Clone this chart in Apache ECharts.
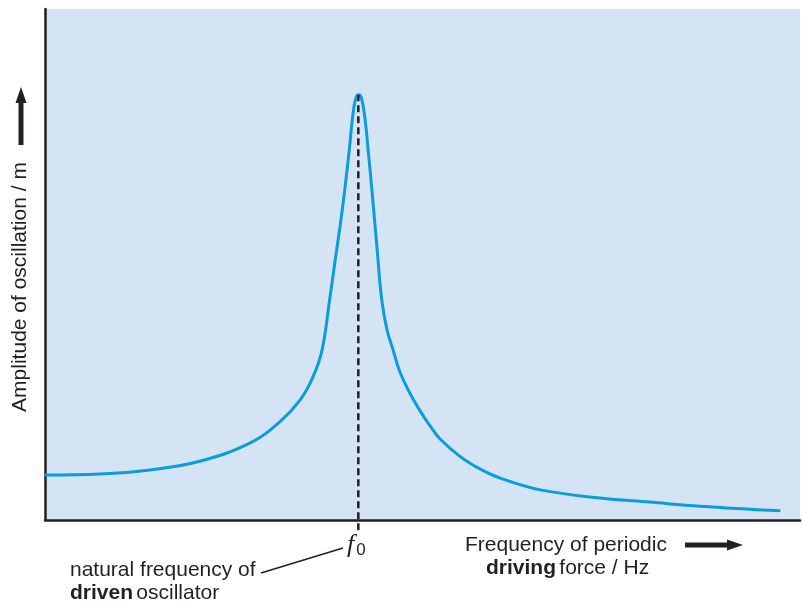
<!DOCTYPE html>
<html>
<head>
<meta charset="utf-8">
<script src="https://cdn.jsdelivr.net/npm/echarts@6/dist/echarts.min.js"></script>
<style>
html,body{margin:0;padding:0;background:#fff;}
#c{width:802px;height:603px;}
</style>
</head>
<body>
<div id="c"></div>
<script>
// Frequency of driving force (arbitrary units, 0..100)
var frequency = [0, 7.3, 13.9, 20.5, 27.2, 31.1, 33.8, 35.5, 36.7, 37.7, 38.4, 39.1, 39.7, 40.3, 40.7, 41.1, 41.5, 41.9, 42.4, 42.8, 43.3, 44.0, 44.6, 45.3, 46.1, 47.0, 48.3, 49.7, 51.0, 52.3, 55.0, 57.6, 60.3, 65.6, 73.5, 80.1, 86.8, 97.4];
// Amplitude of oscillation (arbitrary units, 0..100)
var amplitude = [8.8, 9.0, 9.8, 11.5, 15.1, 19.2, 23.5, 28.0, 33.3, 43.1, 50.5, 57.7, 64.6, 72.4, 78.3, 82.2, 83.2, 82.6, 78.3, 72.4, 64.6, 52.8, 43.1, 37.2, 33.3, 29.0, 24.9, 21.3, 18.4, 15.9, 12.4, 10.0, 8.2, 5.9, 4.3, 3.5, 2.7, 1.8];
var naturalFrequency = 41.5;
var peakAmplitude = 83.2;
var dropBelowAxis = -2;

var xTitleLines = ['Frequency of periodic', 'driving force / Hz'];
var yTitle = 'Amplitude of oscillation / m';
var noteLines = ['natural frequency of', 'driven oscillator'];

var pts = frequency.map(function(f, i){ return [f, amplitude[i]]; });

var chart = echarts.init(document.getElementById('c'), null, {renderer: 'canvas'});
var font = '"Liberation Sans", Arial, Helvetica, sans-serif';
chart.setOption({
  animation: false,
  grid: {left: 45, right: 2, top: 9, bottom: 83, show: true, backgroundColor: '#d4e4f4', borderWidth: 0},
  xAxis: {type: 'value', min: 0, max: 100, axisLine: {show: true, lineStyle: {color: '#231f20', width: 2.5}},
    axisTick: {show: false}, axisLabel: {show: false}, splitLine: {show: false}},
  yAxis: {type: 'value', min: 0, max: 100, axisLine: {show: true, lineStyle: {color: '#231f20', width: 2.5}},
    axisTick: {show: false}, axisLabel: {show: false}, splitLine: {show: false}},
  series: [{
    type: 'line', data: [[naturalFrequency, dropBelowAxis], [naturalFrequency, peakAmplitude]],
    showSymbol: false, silent: true, clip: false, z: 3,
    lineStyle: {color: '#231f20', width: 2.5, type: [7, 4]}
  }, {
    type: 'line', data: pts, smooth: 0.4, showSymbol: false, silent: true, z: 2,
    lineStyle: {color: '#0a9cdc', width: 3}
  }],
  graphic: [
    // y axis title
    {type: 'text', x: 20, y: 287, rotation: Math.PI/2, style: {text: yTitle, font: '21px ' + font, fill: '#231f20', textAlign: 'center', textVerticalAlign: 'middle'}},
    // y arrow
    {type: 'rect', shape: {x: 18.5, y: 100, width: 5, height: 45}, style: {fill: '#231f20'}},
    {type: 'polygon', shape: {points: [[21, 87], [15.5, 103], [26.5, 103]]}, style: {fill: '#231f20'}},
    // x axis title
    {type: 'text', x: 465, y: 545, style: {text: xTitleLines[0], font: '21px ' + font, fill: '#231f20', textVerticalAlign: 'middle'}},
    {type: 'text', x: 486, y: 568, style: {
      text: '{b|driving} {n|force / Hz}', textVerticalAlign: 'middle',
      rich: {b: {font: 'bold 21px ' + font, fill: '#231f20'}, n: {font: '21px ' + font, fill: '#231f20'}}}},
    // x arrow
    {type: 'rect', shape: {x: 685, y: 542.5, width: 45, height: 5}, style: {fill: '#231f20'}},
    {type: 'polygon', shape: {points: [[743, 545], [727, 539.5], [727, 550.5]]}, style: {fill: '#231f20'}},
    // f0 label
    {type: 'text', x: 347, y: 545, style: {
      text: '{f|f}{s|0}', textVerticalAlign: 'middle',
      rich: {f: {font: 'italic 26px "Liberation Serif", "DejaVu Serif", serif', fill: '#231f20'},
             s: {font: '17px ' + font, fill: '#231f20', padding: [10, 0, 0, 2]}}}},
    // note
    {type: 'text', x: 70, y: 570, style: {text: noteLines[0], font: '21px ' + font, fill: '#231f20', textVerticalAlign: 'middle'}},
    {type: 'text', x: 70, y: 593, style: {
      text: '{b|driven} {n|oscillator}', textVerticalAlign: 'middle',
      rich: {b: {font: 'bold 21px ' + font, fill: '#231f20'}, n: {font: '21px ' + font, fill: '#231f20'}}}},
    {type: 'line', shape: {x1: 261, y1: 573, x2: 343, y2: 548}, style: {stroke: '#231f20', lineWidth: 1.5}}
  ]
});
</script>
</body>
</html>
